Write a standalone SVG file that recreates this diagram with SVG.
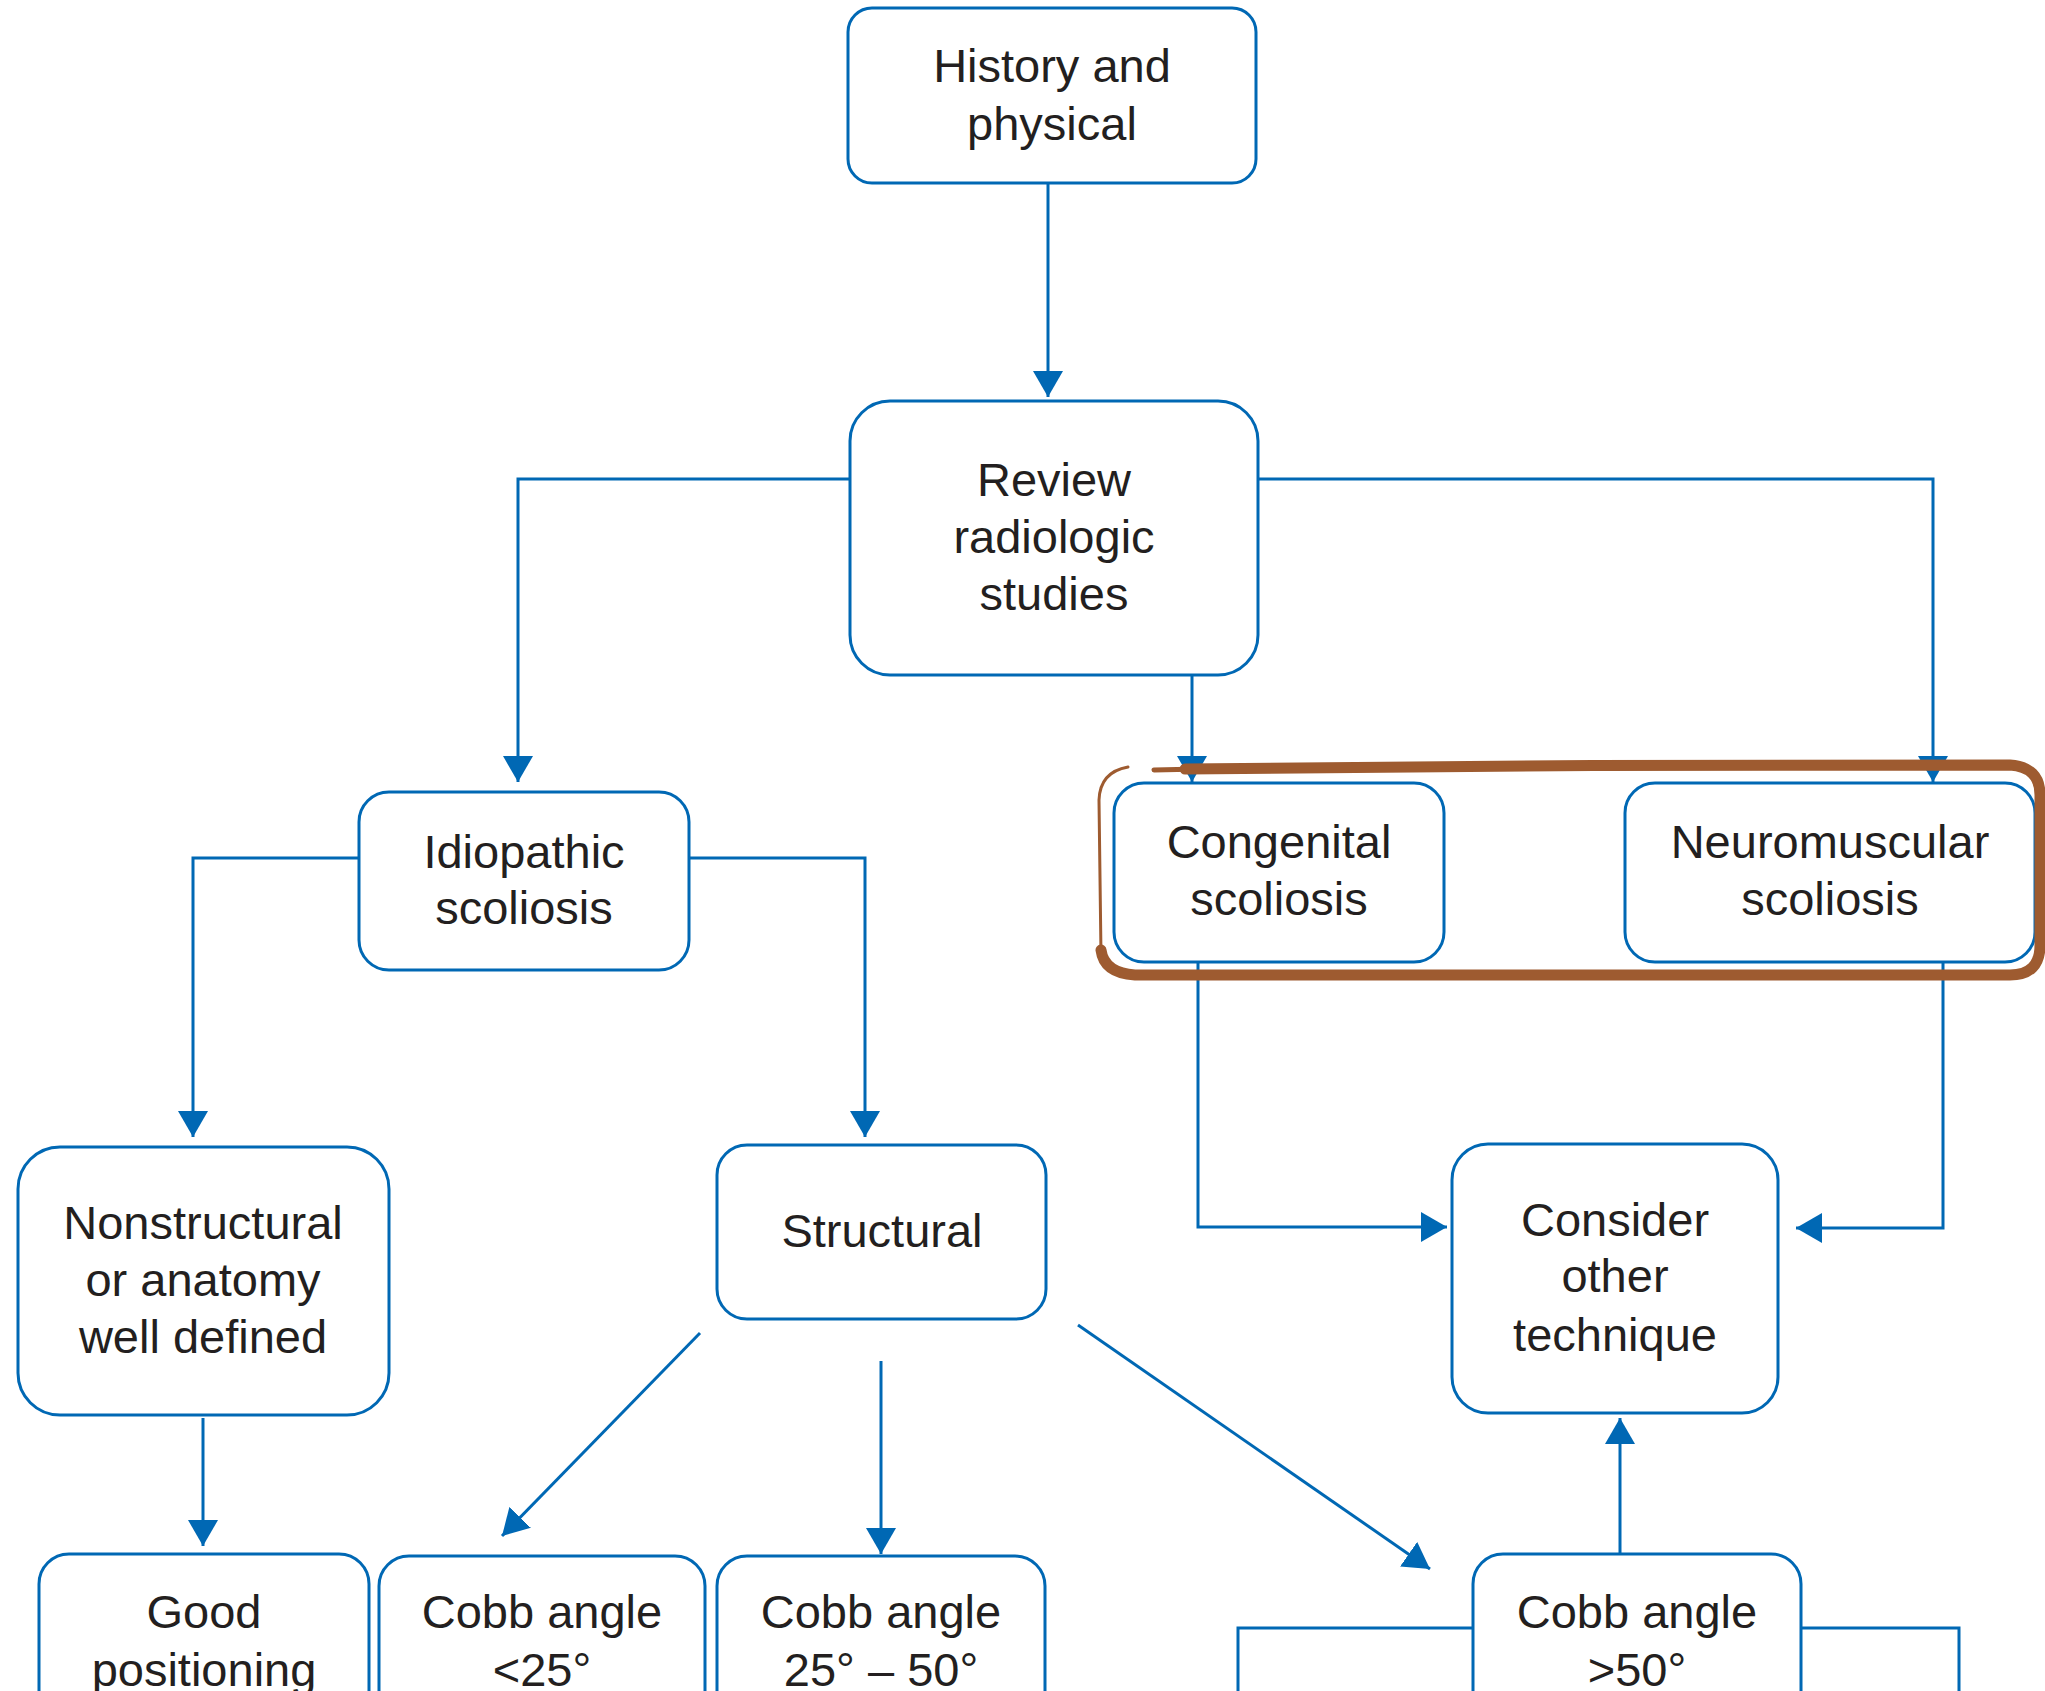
<svg xmlns="http://www.w3.org/2000/svg" width="2045" height="1691" viewBox="0 0 2045 1691">
<style>
.box{fill:#fff;stroke:#0068B4;stroke-width:3}
.c{fill:none;stroke:#0068B4;stroke-width:3}
.t{font-family:"Liberation Sans",Arial,sans-serif;font-size:47px;fill:#231F20;text-anchor:middle}
.br{fill:none;stroke:#9E5B30;stroke-linecap:round;stroke-linejoin:round}
</style>
<defs>
<marker id="ah" markerUnits="userSpaceOnUse" markerWidth="28" markerHeight="30" refX="26" refY="15" orient="auto">
<path d="M0,0 L26,15 L0,30 Z" fill="#0068B4"/>
</marker>
</defs>
<rect width="2045" height="1691" fill="#fff"/>
<g id="connectors">
<path class="c" d="M1048,183 V397" marker-end="url(#ah)"/>
<path class="c" d="M850,479 H518 V782" marker-end="url(#ah)"/>
<path class="c" d="M1192,675 V782" marker-end="url(#ah)"/>
<path class="c" d="M1258,479 H1933 V782" marker-end="url(#ah)"/>
<path class="c" d="M359,858 H193 V1137" marker-end="url(#ah)"/>
<path class="c" d="M689,858 H865 V1137" marker-end="url(#ah)"/>
<path class="c" d="M203,1418 V1546" marker-end="url(#ah)"/>
<path class="c" d="M700,1333 L502,1536" marker-end="url(#ah)"/>
<path class="c" d="M881,1361 V1554" marker-end="url(#ah)"/>
<path class="c" d="M1078,1325 L1430,1569" marker-end="url(#ah)"/>
<path class="c" d="M1198,962 V1227 H1447" marker-end="url(#ah)"/>
<path class="c" d="M1943,962 V1228 H1796" marker-end="url(#ah)"/>
<path class="c" d="M1620,1554 V1418" marker-end="url(#ah)"/>
<path class="c" d="M1473,1628 H1238 V1700"/>
<path class="c" d="M1801,1628 H1959 V1700"/>
</g>
<g id="n-history">
<rect class="box" x="848" y="8" width="408" height="175" rx="24"/>
<text class="t" x="1052" y="82">History and</text>
<text class="t" x="1052" y="140">physical</text>
</g>
<g id="n-review">
<rect class="box" x="850" y="401" width="408" height="274" rx="40"/>
<text class="t" x="1054" y="496">Review</text>
<text class="t" x="1054" y="553">radiologic</text>
<text class="t" x="1054" y="610">studies</text>
</g>
<g id="n-idiopathic">
<rect class="box" x="359" y="792" width="330" height="178" rx="30"/>
<text class="t" x="524" y="868">Idiopathic</text>
<text class="t" x="524" y="924">scoliosis</text>
</g>
<g id="n-congenital">
<rect class="box" x="1114" y="783" width="330" height="179" rx="30"/>
<text class="t" x="1279" y="858">Congenital</text>
<text class="t" x="1279" y="915">scoliosis</text>
</g>
<g id="n-neuromuscular">
<rect class="box" x="1625" y="783" width="410" height="179" rx="30"/>
<text class="t" x="1830" y="858">Neuromuscular</text>
<text class="t" x="1830" y="915">scoliosis</text>
</g>
<g id="n-nonstructural">
<rect class="box" x="18" y="1147" width="371" height="268" rx="42"/>
<text class="t" x="203" y="1239">Nonstructural</text>
<text class="t" x="203" y="1296">or anatomy</text>
<text class="t" x="203" y="1353">well defined</text>
</g>
<g id="n-structural">
<rect class="box" x="717" y="1145" width="329" height="174" rx="30"/>
<text class="t" x="882" y="1247">Structural</text>
</g>
<g id="n-consider">
<rect class="box" x="1452" y="1144" width="326" height="269" rx="36"/>
<text class="t" x="1615" y="1236">Consider</text>
<text class="t" x="1615" y="1292">other</text>
<text class="t" x="1615" y="1351">technique</text>
</g>
<g id="n-good">
<rect class="box" x="39" y="1554" width="330" height="200" rx="30"/>
<text class="t" x="204" y="1628">Good</text>
<text class="t" x="204" y="1686">positioning</text>
</g>
<g id="n-cobb25">
<rect class="box" x="379" y="1556" width="326" height="200" rx="30"/>
<text class="t" x="542" y="1628">Cobb angle</text>
<text class="t" x="542" y="1686">&lt;25°</text>
</g>
<g id="n-cobb2550">
<rect class="box" x="717" y="1556" width="328" height="200" rx="30"/>
<text class="t" x="881" y="1628">Cobb angle</text>
<text class="t" x="881" y="1686">25° – 50°</text>
</g>
<g id="n-cobb50">
<rect class="box" x="1473" y="1554" width="328" height="200" rx="30"/>
<text class="t" x="1637" y="1628">Cobb angle</text>
<text class="t" x="1637" y="1686">&gt;50°</text>
</g>
<g id="highlight">
<path class="br" stroke-width="5" d="M1154,770 L1200,769"/>
<path class="br" stroke-width="11" d="M1185,769 C1400,766 1800,764 2010,765 Q2040,767 2040,795 L2040,945 Q2040,975 2010,975 L1135,975 Q1104,973 1101,950"/>
<path class="br" stroke-width="3" d="M1101,955 L1099,800 Q1100,772 1128,767"/>
</g>
</svg>
